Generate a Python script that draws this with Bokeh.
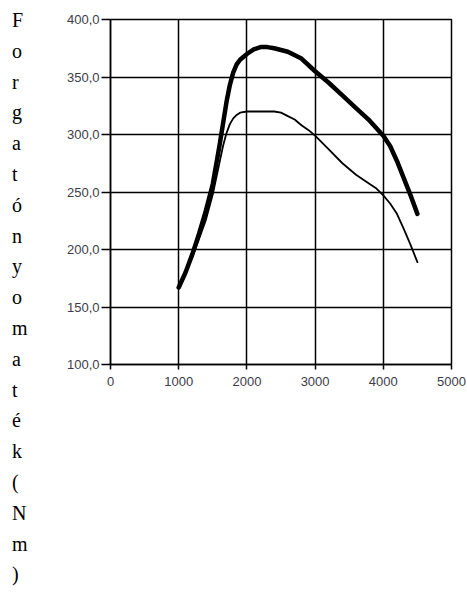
from bokeh.plotting import figure
from bokeh.models import Range1d, FixedTicker, Div
from bokeh.layouts import row
from bokeh.embed import file_html
from bokeh.resources import INLINE

# ---- data ----
rpm_thick = [1000, 1100, 1200, 1300, 1400, 1500, 1600, 1700, 1750, 1800, 1850, 1900,
             2000, 2100, 2200, 2300, 2400, 2600, 2800, 3000, 3200, 3400, 3600, 3800,
             4000, 4100, 4200, 4300, 4400, 4500]
torque_thick = [167, 180, 196, 214, 234, 257, 291, 328, 343, 354, 361, 365,
                370, 374, 376, 376, 375, 372, 366, 355, 345, 334, 323, 312,
                299, 290, 277, 262, 247, 231]

rpm_thin = [1000, 1200, 1400, 1500, 1600, 1650, 1700, 1750, 1800, 1850, 1900, 2000,
            2200, 2400, 2500, 2600, 2700, 2800, 2900, 3000, 3200, 3400, 3600, 3800,
            3900, 4000, 4100, 4200, 4300, 4400, 4500]
torque_thin = [167, 193, 226, 248, 276, 290, 301, 309, 314, 317, 319, 320,
               320, 320, 319, 316, 313, 308, 304, 299, 287, 275, 265, 257,
               253, 247, 240, 231, 218, 204, 189]

x_ticks = [0, 1000, 2000, 3000, 4000, 5000]
y_ticks = [100, 150, 200, 250, 300, 350, 400]
y_tick_labels = ["100,0", "150,0", "200,0", "250,0", "300,0", "350,0", "400,0"]
y_title = "Forgatónyomaték(Nm)"

DIV_W = 60
FL, FT, FR, FB = 110, 19, 451, 364  # frame edges in page pixels

p = figure(width=467 - DIV_W, height=592, output_backend="svg", toolbar_location=None,
           x_range=Range1d(0, 5000), y_range=Range1d(100, 400),
           min_border_left=FL - DIV_W, min_border_right=467 - FR, min_border_top=FT,
           min_border_bottom=592 - FB, margin=0)
p.background_fill_color = "white"
p.border_fill_color = "white"
p.outline_line_color = "black"
p.outline_line_width = 1.5

for ax in (p.xaxis[0], p.yaxis[0]):
    ax.axis_line_color = "black"
    ax.axis_line_width = 1.5
    ax.major_tick_line_color = "black"
    ax.major_tick_line_width = 1.5
    ax.minor_tick_line_color = None
    ax.major_tick_in = 0
    ax.major_label_text_font = "Liberation Sans"
    ax.major_label_text_font_size = "13px"
    ax.major_label_text_color = "#3c3c48"

p.xaxis.ticker = FixedTicker(ticks=x_ticks)
p.yaxis.ticker = FixedTicker(ticks=y_ticks)
p.yaxis.major_label_overrides = {t: s for t, s in zip(y_ticks, y_tick_labels)}
p.xaxis.major_tick_out = 5
p.xaxis.major_label_standoff = 7
p.yaxis.major_tick_out = 9
p.yaxis.major_label_standoff = 2

p.xgrid.ticker = FixedTicker(ticks=x_ticks)
p.ygrid.ticker = FixedTicker(ticks=y_ticks)
for g in (p.xgrid[0], p.ygrid[0]):
    g.grid_line_color = "black"
    g.grid_line_width = 1.5
    g.grid_line_alpha = 1.0

p.line(rpm_thin, torque_thin, line_color="black", line_width=1.8,
       line_cap="round", line_join="round")
p.line(rpm_thick, torque_thick, line_color="black", line_width=4.5,
       line_cap="round", line_join="round")

# vertical title, one character per line
title_html = ("<div style=\"font-family: 'Liberation Serif', serif; font-size: 20px; "
              "line-height: 30.8px; padding-top: 5px; padding-left: 12px; color: black;\">"
              + "<br>".join(y_title) + "</div>")
div = Div(text=title_html, width=DIV_W, height=592, margin=0)

layout = row(div, p, spacing=0, margin=0)
open("out.html", "w").write(file_html(layout, INLINE))
